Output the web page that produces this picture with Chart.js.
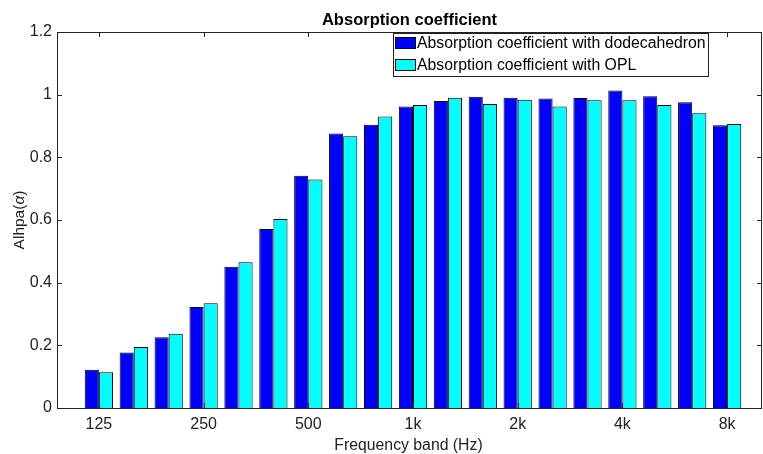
<!DOCTYPE html>
<html>
<head>
<meta charset="utf-8">
<script src="https://cdn.jsdelivr.net/npm/chart.js@4.4.1/dist/chart.umd.min.js"></script>
<style>
  html, body { margin: 0; padding: 0; background: #fff; }
  #wrap { width: 763px; height: 454px; position: relative; }
</style>
</head>
<body>
<div id="wrap"><canvas id="chart"></canvas></div>
<script>
// --- DATA ---
const bands = ['125', '160', '200', '250', '315', '400', '500', '630', '800', '1k', '1.25k', '1.6k', '2k', '2.5k', '3.15k', '4k', '5k', '6.3k', '8k'];
const dodecahedron = [0.122, 0.177, 0.226, 0.322, 0.451, 0.571, 0.741, 0.876, 0.904, 0.962, 0.980, 0.993, 0.990, 0.988, 0.989, 1.013, 0.995, 0.976, 0.902];
const opl = [0.114, 0.195, 0.237, 0.334, 0.465, 0.603, 0.729, 0.867, 0.930, 0.967, 0.990, 0.970, 0.984, 0.962, 0.982, 0.982, 0.967, 0.941, 0.906];
const xTickLabels = ['125', '250', '500', '1k', '2k', '4k', '8k'];
const yTicks = [0, 0.2, 0.4, 0.6, 0.8, 1, 1.2];
const seriesNames = ['Absorption coefficient with dodecahedron', 'Absorption coefficient with OPL'];

const FONT = "'Liberation Sans', Helvetica, Arial, sans-serif";
const xTickPos = xTickLabels.map(l => bands.indexOf(l) + 1);
const toPoints = arr => arr.map((v, i) => ({ x: i + 1, y: v }));

// box, inward ticks, titles and legend drawn MATLAB-style
const matlabAxes = {
    id: 'matlabAxes',
    afterDraw(chart) {
        const { ctx, chartArea: a, scales } = chart;
        const x = scales.x, y = scales.y;
        ctx.save();
        ctx.strokeStyle = '#222';
        ctx.lineWidth = 1;
        ctx.beginPath();
        xTickPos.forEach(v => {
            const px = Math.round(x.getPixelForValue(v)) + 0.5;
            ctx.moveTo(px, a.top); ctx.lineTo(px, a.top + 5);
            ctx.moveTo(px, a.bottom); ctx.lineTo(px, a.bottom - 5);
        });
        yTicks.forEach(v => {
            const py = Math.round(y.getPixelForValue(v)) + 0.5;
            ctx.moveTo(a.left, py); ctx.lineTo(a.left + 5, py);
            ctx.moveTo(a.right, py); ctx.lineTo(a.right - 5, py);
        });
        ctx.stroke();
        ctx.strokeRect(Math.round(a.left) + 0.5, Math.round(a.top) + 0.5, Math.round(a.right - a.left) - 1, Math.round(a.bottom - a.top));

        // title
        const cx = (a.left + a.right) / 2;
        ctx.fillStyle = '#000';
        ctx.textAlign = 'center';
        ctx.textBaseline = 'alphabetic';
        ctx.font = 'bold 16.5px ' + FONT;
        ctx.fillText('Absorption coefficient', cx, 25);

        // x label
        ctx.font = '15.8px ' + FONT;
        ctx.fillStyle = '#222';
        ctx.fillText('Frequency band (Hz)', cx - 1, 450);

        // y label with italic alpha
        ctx.save();
        ctx.translate(24, (a.top + a.bottom) / 2);
        ctx.rotate(-Math.PI / 2);
        const p1 = 'Alhpa(', p2 = '\u03b1', p3 = ')';
        ctx.font = '15.5px ' + FONT;
        const w1 = ctx.measureText(p1).width, w3 = ctx.measureText(p3).width;
        ctx.font = 'italic 15.5px ' + FONT;
        const w2 = ctx.measureText(p2).width;
        let sx = -(w1 + w2 + w3) / 2;
        ctx.textAlign = 'left';
        ctx.font = '15.5px ' + FONT;
        ctx.fillText(p1, sx, 0);
        ctx.font = 'italic 15.5px ' + FONT;
        ctx.fillText(p2, sx + w1, 0);
        ctx.font = '15.5px ' + FONT;
        ctx.fillText(p3, sx + w1 + w2, 0);
        ctx.restore();

        // legend
        const lx = 393.5, ly = 33.5, lw = 315, lh = 43;
        ctx.fillStyle = '#fff';
        ctx.fillRect(lx, ly, lw, lh);
        ctx.strokeStyle = '#222';
        ctx.strokeRect(lx, ly, lw, lh);
        ctx.font = '15.8px ' + FONT;
        ctx.textAlign = 'left';
        ctx.textBaseline = 'middle';
        chart.data.datasets.forEach((ds, i) => {
            const rowY = 43 + i * 22;
            ctx.fillStyle = ds.backgroundColor;
            ctx.fillRect(395, rowY - 5.5, 21, 11);
            ctx.strokeStyle = '#000';
            ctx.strokeRect(395.5, rowY - 5.5, 20, 11);
            ctx.fillStyle = '#000';
            ctx.fillText(ds.label, 417, rowY + 1);
        });
        ctx.restore();
    }
};

new Chart(document.getElementById('chart'), {
    type: 'bar',
    data: {
        datasets: [
            { label: seriesNames[0], data: toPoints(dodecahedron), backgroundColor: '#0000ff', borderColor: '#000', borderWidth: 1 },
            { label: seriesNames[1], data: toPoints(opl), backgroundColor: '#00ffff', borderColor: '#000', borderWidth: 1 }
        ]
    },
    options: {
        responsive: true, maintainAspectRatio: false, animation: false,
        layout: { padding: { top: 32, right: 1, left: 0, bottom: 0 } },
        categoryPercentage: 0.81, barPercentage: 1.0,
        scales: {
            x: {
                type: 'linear', min: -0.2, max: 20, offset: false,
                grid: { display: false, drawTicks: false },
                border: { display: false },
                afterBuildTicks: s => { s.ticks = xTickPos.map(v => ({ value: v })); },
                afterFit: s => { s.height = 46; },
                ticks: {
                    autoSkip: false, maxRotation: 0, padding: 7, color: '#222',
                    font: { family: FONT, size: 16 },
                    callback: v => xTickLabels[xTickPos.indexOf(v)]
                }
            },
            y: {
                min: 0, max: 1.2,
                grid: { display: false, drawTicks: false },
                border: { display: false },
                afterBuildTicks: s => { s.ticks = yTicks.map(v => ({ value: v })); },
                afterFit: s => { s.width = 57; },
                ticks: {
                    padding: 5, color: '#222',
                    font: { family: FONT, size: 16 },
                    callback: v => String(Number(v.toFixed(1)))
                }
            }
        },
        plugins: { legend: { display: false }, title: { display: false }, tooltip: { enabled: false } }
    },
    plugins: [matlabAxes]
});
</script>
</body>
</html>
